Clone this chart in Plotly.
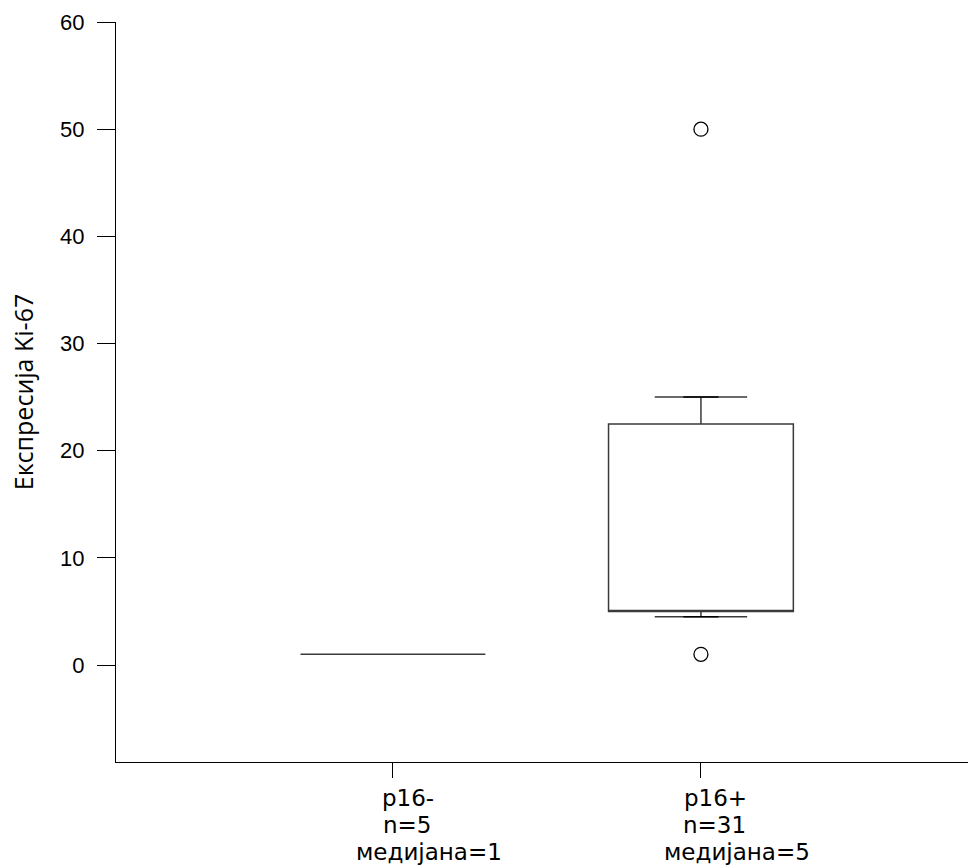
import plotly.graph_objects as go

# Data
categories = ["p16-", "p16+"]
n_counts = [5, 31]
medians = [1, 5]
q1_vals = [1, 5]
q3_vals = [1, 22.5]
lower_fences = [1, 4.5]
upper_fences = [1, 25]
outlier_x = ["p16+", "p16+"]
outlier_y = [50, 1]
y_ticks = [0, 10, 20, 30, 40, 50, 60]

fig = go.Figure()

fig.add_trace(go.Box(
    x=categories,
    q1=q1_vals, median=medians, q3=q3_vals,
    lowerfence=lower_fences, upperfence=upper_fences,
    width=0.6,
    fillcolor="white",
    line=dict(color="#3a3a3a", width=1.5),
    boxpoints=False,
    showlegend=False,
))

# whisker caps (only where the whisker has length)
cap_half = 0.057
for i, c in enumerate(categories):
    for v, q in ((upper_fences[i], q3_vals[i]), (lower_fences[i], q1_vals[i])):
        if v != q:
            fig.add_trace(go.Scatter(
                x=[i - cap_half, i + cap_half], y=[v, v], mode="lines",
                line=dict(color="black", width=1.5), showlegend=False, hoverinfo="skip",
                xaxis="x2",
            ))

fig.add_trace(go.Scatter(
    x=outlier_x, y=outlier_y, mode="markers",
    marker=dict(symbol="circle-open", size=14, color="black", line=dict(width=1.3)),
    showlegend=False,
))

# category labels (three lines under each tick)
line_y = [-0.0486, -0.0851, -0.1216]
line_shift = [15, 14, 36]
for c, n, m in zip(categories, n_counts, medians):
    for txt, yy, xs in zip([c, f"n={n}", f"медијана={m}"], line_y, line_shift):
        fig.add_annotation(
            x=c, xref="x", y=yy, yref="paper", yanchor="middle", xanchor="center",
            xshift=xs, text=txt, showarrow=False,
            font=dict(family="DejaVu Sans", size=23, color="black"),
        )

xr = [-0.899, 1.867]
fig.update_layout(
    width=968, height=868,
    margin=dict(l=116, r=0, t=22, b=106),
    plot_bgcolor="white", paper_bgcolor="white",
    xaxis=dict(
        type="category",
        range=xr,
        tickvals=categories, showticklabels=False,
        ticks="outside", ticklen=15, tickcolor="black", tickwidth=1,
        showline=True, linecolor="black", linewidth=1,
        showgrid=False, zeroline=False,
    ),
    xaxis2=dict(
        overlaying="x", range=xr, visible=False, showgrid=False, zeroline=False,
    ),
    yaxis=dict(
        range=[-9.05, 60],
        tickvals=y_ticks,
        ticks="outside", ticklen=18, tickcolor="black", tickwidth=1,
        ticklabelstandoff=8,
        showline=True, linecolor="black", linewidth=1,
        showgrid=False, zeroline=False,
        tickfont=dict(family="Liberation Sans", size=22, color="black"),
        title=dict(text="Експресија Ki-67", font=dict(family="Open Sans", size=25, color="black"),
                   standoff=19),
    ),
)

fig.write_html("out.html", config={"displayModeBar": False},
               post_script="document.body.style.margin='0';")
